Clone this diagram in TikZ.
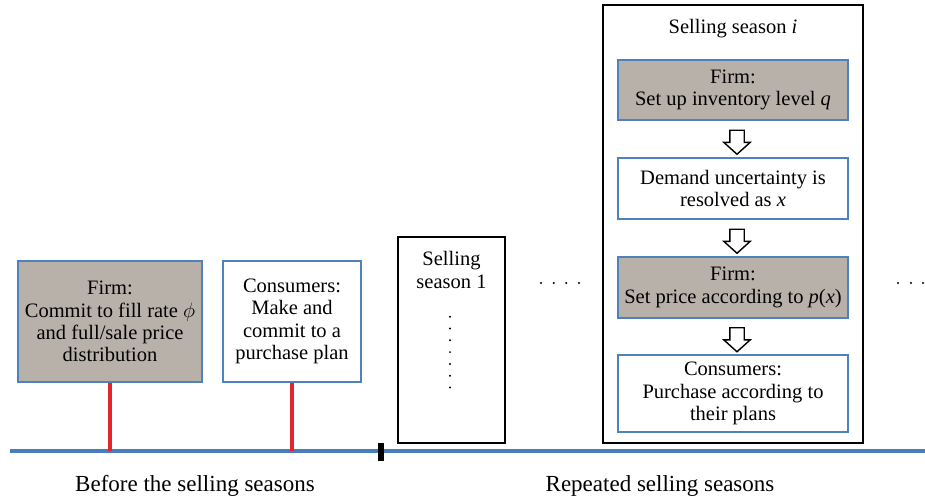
\documentclass[tikz,border=0pt]{standalone}
\usepackage{fontspec}
\setmainfont{Liberation Serif}
\usetikzlibrary{shapes.arrows,calc}

\definecolor{boxgray}{RGB}{184,177,170}
\definecolor{boxblue}{RGB}{79,129,189}
\definecolor{lineblue}{RGB}{74,126,187}
\definecolor{pinred}{RGB}{228,38,44}

\begin{document}
\begin{tikzpicture}[x=1pt,y=-1pt,
  every node/.style={font=\fontsize{20.5}{22.3}\selectfont, align=center, inner sep=0pt},
  evt/.style={draw=boxblue, line width=1.6pt},
  firm/.style={evt, fill=boxgray},
  season/.style={draw=black, line width=1.8pt},
  dnarrow/.style={single arrow, draw=black, line width=1.4pt, fill=white,
    shape border rotate=270, minimum height=24pt, inner sep=6.5pt,
    single arrow head extend=6pt, single arrow tip angle=96},
  pin/.style={pinred, line width=4pt}]
\pgfmathsetmacro{\dotr}{1.1}
\useasboundingbox (0,0) rectangle (925,501);
% time line
\coordinate (L) at (10,451);
\coordinate (R) at (925,451);
\draw[lineblue, line width=3.5pt] (L) -- (R);
\node[fill=black, minimum width=6pt, minimum height=18pt] (brk) at (381,451.5) {};
% before the selling seasons
\node[firm, minimum width=184pt, minimum height=121pt] (commit) at (110,321.5)
  {Firm:\\Commit to fill rate $\phi$\\and full/sale price\\distribution};
\node[evt, minimum width=138pt, minimum height=121pt] (plan) at (292,321.5)
  {Consumers:\\Make and\\commit to a\\purchase plan};
\draw[pin] (commit.south) -- (commit.south |- L);
\draw[pin] (plan.south) -- (plan.south |- L);
% season 1
\node[season, minimum width=107pt, minimum height=206pt] (s1) at (451.5,340) {};
\node (s1lbl) at (451.5,270) {Selling\\season 1};
\foreach \k in {0,...,6}
  \fill (450,316.7+11.8*\k) circle (\dotr);
\foreach \x in {541,553.7,566.3,579}
  \fill (\x,283) circle (\dotr);
% season i
\node[season, minimum width=260pt, minimum height=438pt] (si) at (733,224) {};
\node (silbl) at (733,29) {Selling season \textit{i}};
\node[firm, minimum width=230pt, minimum height=60pt] (setq) at (733,90)
  {Firm:\\Set up inventory level \textit{q}};
\node[evt, minimum width=230pt, minimum height=61pt] (dem) at (733,188.5)
  {Demand uncertainty is\\resolved as \textit{x}};
\node[firm, minimum width=230pt, minimum height=61pt] (setp) at (733,287.5)
  {Firm:\\Set price according to \textit{p}(\textit{x})};
\node[evt, minimum width=230pt, minimum height=77pt] (buy) at (733,393.5)
  {Consumers:\\Purchase according to\\their plans};
\node[dnarrow, xshift=4pt] (a1) at ($(setq.south)!.5!(dem.north)$) {};
\node[dnarrow, xshift=4pt] (a2) at ($(dem.south)!.5!(setp.north)$) {};
\node[dnarrow, xshift=4pt] (a3) at ($(setp.south)!.5!(buy.north)$) {};
\foreach \x in {898,911,923}
  \fill (\x,283) circle (\dotr);
% labels
\node[font=\fontsize{23}{26}\selectfont] (before) at (195,486) {Before the selling seasons};
\node[font=\fontsize{23}{26}\selectfont] (repeat) at (660,486) {Repeated selling seasons};
\end{tikzpicture}
\end{document}
